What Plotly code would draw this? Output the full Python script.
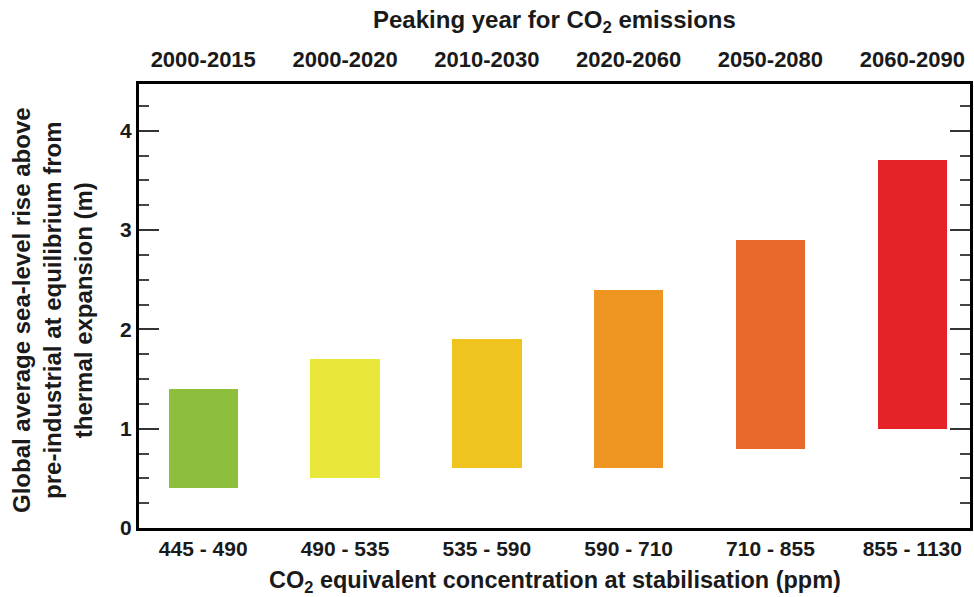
import plotly.graph_objects as go

concentration = ["445 - 490", "490 - 535", "535 - 590", "590 - 710", "710 - 855", "855 - 1130"]
peak_years = ["2000-2015", "2000-2020", "2010-2030", "2020-2060", "2050-2080", "2060-2090"]
rise_low = [0.4, 0.5, 0.6, 0.6, 0.8, 1.0]
rise_high = [1.4, 1.7, 1.9, 2.4, 2.9, 3.7]
bar_colors = ["#8DBF3C", "#EAE73B", "#F0C41F", "#EE9621", "#E8672A", "#E52227"]

FONT = "Liberation Sans, Arial, sans-serif"
TXT = "#1a1a1a"

fig = go.Figure()
fig.add_trace(go.Bar(
    x=concentration,
    y=[h - l for h, l in zip(rise_high, rise_low)],
    base=rise_low,
    width=0.49,
    marker=dict(color=bar_colors, line=dict(width=0)),
    showlegend=False,
    hoverinfo="skip",
))
# invisible trace to carry the top (peaking year) axis and right tick axis
fig.add_trace(go.Scatter(
    x=concentration, y=rise_low, xaxis="x2", yaxis="y2",
    mode="markers", marker=dict(opacity=0),
    showlegend=False, hoverinfo="skip",
))

xrange = [-0.453, 5.407]
yrange = [0, 4.47]
ytick_major = [0, 1, 2, 3, 4]

tick_common = dict(
    tickmode="array", tickvals=ytick_major,
    ticks="inside", ticklen=20, tickwidth=2, tickcolor="#333",
    minor=dict(dtick=0.25, ticks="inside", ticklen=10, tickwidth=2, tickcolor="#444", showgrid=False),
    showgrid=False, zeroline=False, automargin=False,
)

fig.update_layout(
    width=974, height=597,
    margin=dict(l=139, r=4, t=84, b=69, autoexpand=False),
    paper_bgcolor="white", plot_bgcolor="white",
    font=dict(family=FONT, color=TXT),
    bargap=0,
    xaxis=dict(
        type="category", range=xrange, automargin=False,
        showline=True, linecolor="black", linewidth=3, mirror=True,
        ticks="", showgrid=False, zeroline=False,
        tickfont=dict(size=21, family=FONT, weight="bold", color=TXT),
        ticklabelstandoff=0,
    ),
    xaxis2=dict(
        type="category", range=xrange, overlaying="x", side="top", automargin=False,
        categoryorder="array", categoryarray=concentration,
        tickmode="array", tickvals=concentration, ticktext=peak_years,
        ticks="", showgrid=False, zeroline=False, showline=False,
        tickfont=dict(size=22, family=FONT, weight="bold", color=TXT),
        ticklabelstandoff=12,
    ),
    yaxis=dict(
        range=yrange,
        showline=True, linecolor="black", linewidth=3, mirror=True,
        tickfont=dict(size=21, family=FONT, weight="bold", color=TXT),
        **tick_common,
    ),
    yaxis2=dict(
        range=yrange, overlaying="y", side="right",
        showline=False, showticklabels=False,
        **tick_common,
    ),
    annotations=[
        dict(text="Peaking year for CO<sub>2</sub> emissions",
             xref="paper", yref="paper", x=0.5, y=1.14,
             xanchor="center", yanchor="middle", showarrow=False,
             font=dict(size=24, family=FONT, weight="bold", color=TXT)),
        dict(text="CO<sub>2</sub> equivalent concentration at stabilisation (ppm)",
             xref="paper", yref="paper", x=0.5, y=-0.12,
             xanchor="center", yanchor="middle", showarrow=False,
             font=dict(size=23.5, family=FONT, weight="bold", color=TXT)),
        dict(text="Global average sea-level rise above<br>pre-industrial at equilibrium from<br>thermal expansion (m)",
             xref="paper", yref="paper", x=-0.1035, y=0.491, textangle=-90,
             xanchor="center", yanchor="middle", showarrow=False,
             font=dict(size=24, family=FONT, weight="bold", color=TXT)),
    ],
)

fig.write_html("out.html", config={"displayModeBar": False},
               post_script="document.body.style.margin='0px';document.body.style.padding='0px';")
